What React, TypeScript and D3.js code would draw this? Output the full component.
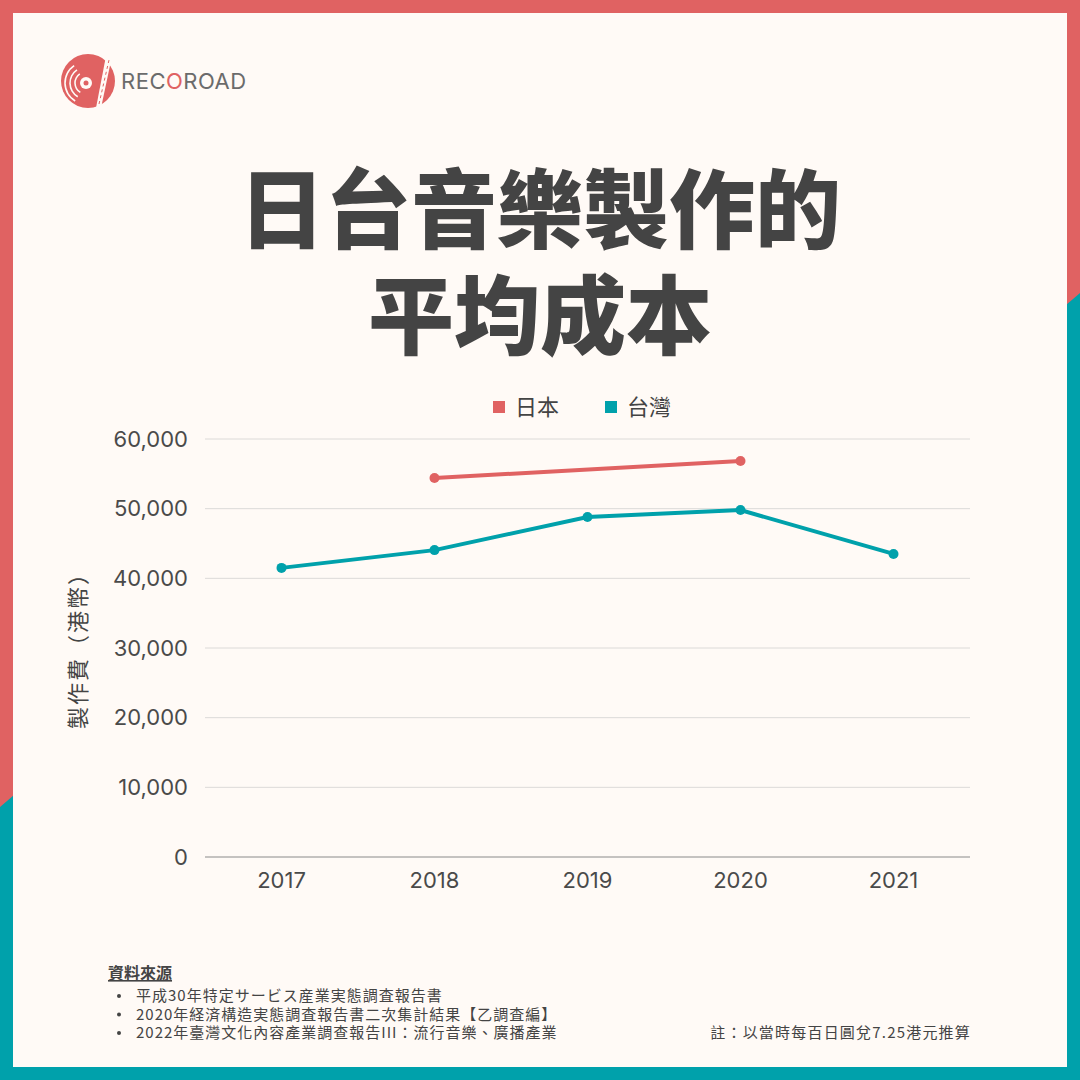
import * as d3 from "d3";

const years = ["2017", "2018", "2019", "2020", "2021"];
const japan = [null, 54400, null, 56850, null];
const taiwan = [41500, 44050, 48800, 49800, 43500];
const yTicks = [0, 10000, 20000, 30000, 40000, 50000, 60000];
const sources = [
  "平成30年特定サービス産業実態調査報告書",
  "2020年経済構造実態調査報告書二次集計結果【乙調査編】",
  "2022年臺灣文化內容產業調查報告III：流行音樂、廣播產業",
];

const RED = "#E06262";
const TEAL = "#00A1AB";
const INK = "#444444";
const CREAM = "#FFFAF6";
const CJK = "'Noto Sans CJK TC', 'Noto Sans', sans-serif";
const LATIN = "Inter, 'Noto Sans', sans-serif";

const Logo = () => (
  <g>
    <circle cx={88} cy={81} r={27} fill={RED} />
    {[21, 16, 11].map((r) => (
      <path
        key={r}
        d={d3.arc()({ innerRadius: r - 0.8, outerRadius: r + 0.8, startAngle: -2.6, endAngle: -0.6 })}
        transform="translate(86,83)"
        fill={CREAM}
      />
    ))}
    <circle cx={86} cy={83} r={6} fill={CREAM} />
    <circle cx={86} cy={83} r={2.5} fill={RED} />
    <path d="M96,108 L106,56 L112,56 L101,108 Z" fill={CREAM} />
    <path d="M99,104 L109,60" stroke={RED} strokeWidth={1} strokeDasharray="3 3" />
    <text x={121} y={89} fontFamily={LATIN} fontSize={22} fill="#6b6b6b" letterSpacing={0.5}>
      <tspan>REC</tspan>
      <tspan fill={RED}>O</tspan>
      <tspan>ROAD</tspan>
    </text>
  </g>
);

const Chart = () => {
  const x = d3.scaleBand().domain(years).range([205, 970]);
  const y = d3.scaleLinear().domain([0, 60000]).range([857, 439]);
  const cx = (yr: string) => (x(yr) as number) + x.bandwidth() / 2;
  const fmt = d3.format(",");

  const series = [
    { name: "日本", color: RED, values: japan },
    { name: "台灣", color: TEAL, values: taiwan },
  ];

  return (
    <g>
      {yTicks.map((t) => (
        <g key={t}>
          <line
            x1={205}
            x2={970}
            y1={y(t)}
            y2={y(t)}
            stroke={t === 0 ? "#8a8a8a" : "#dcdad8"}
            strokeWidth={1}
          />
          <text
            x={188}
            y={y(t)}
            dy="0.35em"
            textAnchor="end"
            fontFamily={LATIN}
            fontSize={22}
            fill="#4a4a4a"
          >
            {fmt(t)}
          </text>
        </g>
      ))}
      {years.map((yr) => (
        <text
          key={yr}
          x={cx(yr)}
          y={880}
          dy="0.35em"
          textAnchor="middle"
          fontFamily={LATIN}
          fontSize={22}
          fill="#4a4a4a"
        >
          {yr}
        </text>
      ))}
      {series.map((s) => {
        // connect only the years that have a value
        const pts = s.values.map((v, i) => ({ v, i })).filter((p) => p.v !== null);
        const path = d3
          .line<{ v: number | null; i: number }>()
          .x((p) => cx(years[p.i]))
          .y((p) => y(p.v as number))(pts);
        return (
          <g key={s.name}>
            <path d={path || ""} fill="none" stroke={s.color} strokeWidth={4} />
            {pts.map((p) => (
              <circle key={p.i} cx={cx(years[p.i])} cy={y(p.v as number)} r={5} fill={s.color} />
            ))}
          </g>
        );
      })}
      <text
        transform="translate(78,645) rotate(-90)"
        textAnchor="middle"
        dy="0.35em"
        fontFamily={CJK}
        fontSize={22}
        letterSpacing={2}
        fill={INK}
      >
        製作費（港幣）
      </text>
      <g fontFamily={CJK} fontSize={22} fill={INK}>
        <rect x={493} y={401} width={12} height={12} fill={RED} />
        <text x={515} y={407} dy="0.35em">日本</text>
        <rect x={605} y={401} width={12} height={12} fill={TEAL} />
        <text x={627} y={407} dy="0.35em">台灣</text>
      </g>
    </g>
  );
};

export default function App() {
  return (
    <svg
      width={1080}
      height={1080}
      viewBox="0 0 1080 1080"
      style={{ position: "absolute", left: 0, top: 0 }}
    >
      <rect width={1080} height={1080} fill={RED} />
      <polygon points="0,807 14,795 1066,305 1080,293 1080,1080 0,1080" fill={TEAL} />
      <rect x={13} y={13} width={1054} height={1054} fill={CREAM} />
      <Logo />
      <g fontFamily={CJK} fontWeight={900} fontSize={86} fill={INK} textAnchor="middle">
        <text x={540} y={212} dy="0.35em">日台音樂製作的</text>
        <text x={540} y={318} dy="0.35em">平均成本</text>
      </g>
      <Chart />
      <g fontFamily={CJK} fill={INK}>
        <text x={108} y={979} fontSize={16} fontWeight={700} textDecoration="underline">
          資料來源
        </text>
        {sources.map((s, i) => (
          <g key={s}>
            <circle cx={119} cy={996 + i * 18.5} r={2} fill={INK} />
            <text x={136} y={996 + i * 18.5} dy="0.35em" fontSize={15} letterSpacing={1}>
              {s}
            </text>
          </g>
        ))}
        <text x={971} y={1033} dy="0.35em" fontSize={15} letterSpacing={1.2} textAnchor="end">
          註：以當時每百日圓兌7.25港元推算
        </text>
      </g>
    </svg>
  );
}
